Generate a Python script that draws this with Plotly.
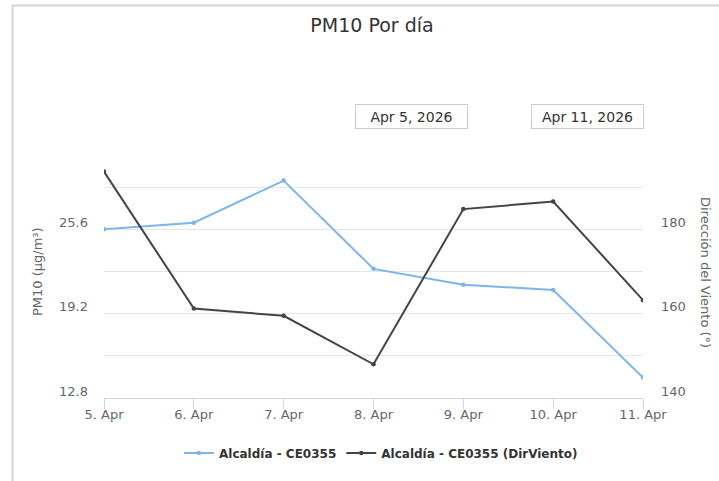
import plotly.graph_objects as go

dates = ["2026-04-05", "2026-04-06", "2026-04-07", "2026-04-08",
         "2026-04-09", "2026-04-10", "2026-04-11"]
pm10 = [25.6, 26.1, 29.3, 22.6, 21.4, 21.0, 14.35]
dir_viento = [193.7, 161.2, 159.5, 148.0, 184.8, 186.6, 163.2]

left_tickvals = [12.8, 16.0, 19.2, 22.4, 25.6, 28.8, 32.0]
left_ticktext = ["12.8", "", "19.2", "", "25.6", "", ""]
right_tickvals = [140, 160, 180]
right_ticktext = ["140", "160", "180"]

FONT = "DejaVu Sans"

fig = go.Figure()
fig.add_trace(go.Scatter(
    x=dates, y=pm10, name="<b>Alcaldía - CE0355</b>", mode="lines+markers",
    line=dict(color="#7cb5ec", width=2), marker=dict(size=4.5, color="#7cb5ec"),
    yaxis="y"))
fig.add_trace(go.Scatter(
    x=dates, y=dir_viento, name="<b>Alcaldía - CE0355 (DirViento)</b>", mode="lines+markers",
    line=dict(color="#434348", width=2), marker=dict(size=4.5, color="#434348"),
    yaxis="y2"))

L, R, T, B = 104, 76, 145, 83
W, H = 719, 481
pw, ph = W - L - R, H - T - B

def px(x):
    return (x - L) / pw

def py(y):
    return (H - B - y) / ph

fig.update_layout(
    width=W, height=H,
    margin=dict(l=L, r=R, t=T, b=B, pad=0),
    paper_bgcolor="white", plot_bgcolor="white",
    font=dict(family=FONT, color="#666666", size=12),
    title=dict(text="PM10 Por día", x=372 / W, xanchor="center", y=1 - 25 / H, yanchor="middle",
               font=dict(family=FONT, size=19, color="#333333")),
    xaxis=dict(
        type="date", range=[dates[0], dates[-1]],
        tickvals=dates, tickformat="%-d. %b",
        showgrid=False, showline=True, linecolor="#ccd6eb", linewidth=1,
        ticks="outside", ticklen=10, tickcolor="#ccd6eb",
        ticklabelstandoff=-6,
        tickfont=dict(size=13, color="#666666"), zeroline=False,
    ),
    yaxis=dict(
        range=[12.8, 32.0], tickvals=left_tickvals, ticktext=left_ticktext,
        showgrid=True, gridcolor="#e6e6e6", gridwidth=1, zeroline=False,
        showline=False, ticks="", ticklabelstandoff=15, ticklabelshift=-7,
        tickfont=dict(size=13, color="#666666"),
    ),
    yaxis2=dict(
        range=[140, 200], tickvals=right_tickvals, ticktext=right_ticktext,
        overlaying="y", side="right", showgrid=False, zeroline=False,
        showline=False, ticks="", ticklabelstandoff=17, ticklabelshift=-7,
        tickfont=dict(size=13, color="#666666"),
    ),
    legend=dict(orientation="h", x=px(381), xanchor="center",
                y=py(453), yanchor="middle", itemwidth=30,
                font=dict(family=FONT, size=12, color="#333333"),
                bgcolor="rgba(0,0,0,0)"),
    showlegend=True,
)

annotations = [
    dict(text="PM10 (µg/m³)", x=px(37), y=py(272), xref="paper", yref="paper",
         xanchor="center", yanchor="middle",
         textangle=-90, showarrow=False, font=dict(size=13, color="#666666")),
    dict(text="Dirección del Viento (°)", x=px(706), y=py(272), xref="paper", yref="paper",
         xanchor="center", yanchor="middle",
         textangle=90, showarrow=False, font=dict(size=13, color="#666666")),
    dict(text="Apr 5, 2026", x=px(411.5), y=py(116.5), xref="paper", yref="paper",
         xanchor="center", yanchor="middle",
         showarrow=False, width=111, height=23, bordercolor="#cccccc", borderwidth=1,
         borderpad=0, bgcolor="white", font=dict(size=14, color="#333333")),
    dict(text="Apr 11, 2026", x=px(587.5), y=py(116.5), xref="paper", yref="paper",
         xanchor="center", yanchor="middle",
         showarrow=False, width=111, height=23, bordercolor="#cccccc", borderwidth=1,
         borderpad=0, bgcolor="white", font=dict(size=14, color="#333333")),
]
fig.update_layout(annotations=annotations)

shapes = [
    dict(type="line", xref="paper", yref="paper", x0=px(12.5), x1=px(12.5), y0=py(5), y1=py(481),
         line=dict(color="#d4d4d4", width=2)),
    dict(type="line", xref="paper", yref="paper", x0=px(12), x1=px(719), y0=py(5.5), y1=py(5.5),
         line=dict(color="#d4d4d4", width=2)),
]
fig.update_layout(shapes=shapes)

fig.write_html("out.html", config={"displayModeBar": False},
               post_script="document.body.style.margin='0';document.body.style.padding='0';")
